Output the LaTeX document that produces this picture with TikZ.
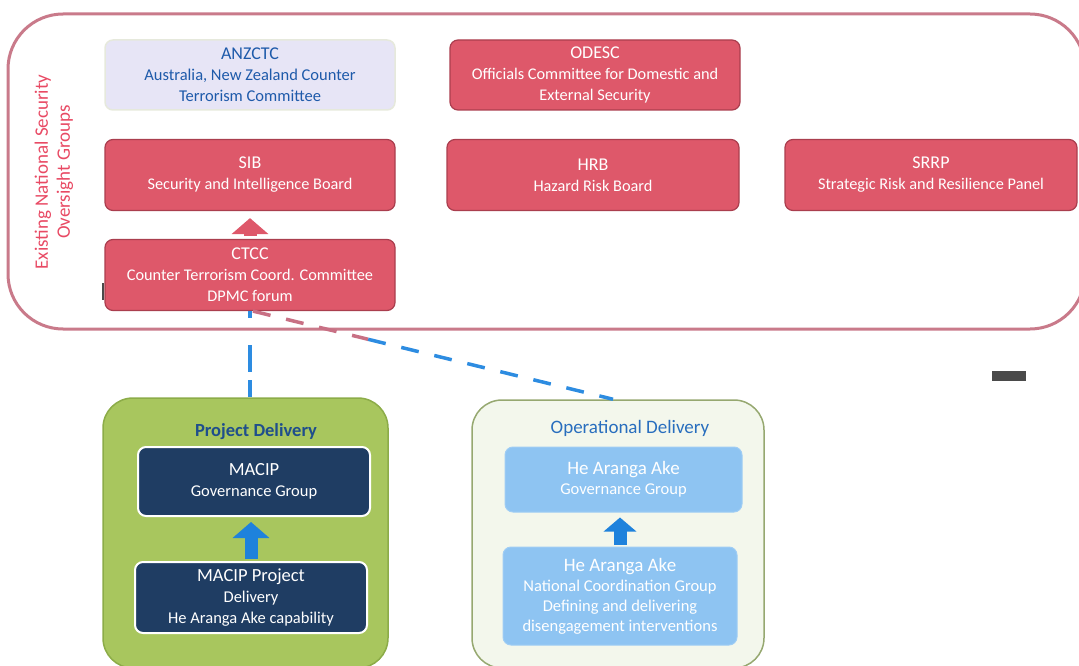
\documentclass[tikz,border=0pt]{standalone}
\usepackage{fontspec}
\setmainfont{Carlito}
\usetikzlibrary{arrows.meta,calc}
\definecolor{redfill}{RGB}{222,88,106}
\definecolor{redborder}{RGB}{170,62,78}
\definecolor{outerc}{RGB}{201,122,138}
\definecolor{labelred}{RGB}{232,74,100}
\definecolor{lavfill}{RGB}{231,229,246}
\definecolor{lavborder}{RGB}{230,233,220}
\definecolor{anztext}{RGB}{30,90,170}
\definecolor{pdgreen}{RGB}{168,198,94}
\definecolor{pdborder}{RGB}{140,172,72}
\definecolor{odfill}{RGB}{243,247,236}
\definecolor{odborder}{RGB}{150,168,112}
\definecolor{navy}{RGB}{31,61,99}
\definecolor{lightblue}{RGB}{142,196,242}
\definecolor{arrowblue}{RGB}{30,130,220}
\definecolor{dashblue}{RGB}{45,140,225}
\definecolor{dashpink}{RGB}{200,112,132}
\definecolor{pdtitle}{RGB}{31,78,140}
\definecolor{odtitle}{RGB}{40,110,190}
\definecolor{markgray}{RGB}{74,74,74}
\newcommand{\ttl}[1]{{\fontsize{18}{21}\selectfont #1}}
\begin{document}
\begin{tikzpicture}[x=1pt,y=-1pt,
  redbox/.style={rounded corners=8pt, fill=redfill, draw=redborder, line width=1.2pt,
    text=white, align=center, inner sep=0pt, font=\fontsize{16.3}{21}\selectfont},
  lavbox/.style={rounded corners=8pt, fill=lavfill, draw=lavborder, line width=1.5pt,
    text=anztext, align=center, inner sep=0pt, font=\fontsize{16.5}{21}\selectfont},
  navybox/.style={rounded corners=8pt, fill=navy, draw=white, line width=2pt,
    text=white, align=center, inner sep=0pt, font=\fontsize{16.5}{21}\selectfont},
  bluebox/.style={rounded corners=8pt, fill=lightblue, draw=lightblue!85!white, line width=1pt,
    text=white, align=center, inner sep=0pt, font=\fontsize{16.5}{20}\selectfont},
  groupbox/.style={rounded corners=30pt, line width=1.5pt, inner sep=0pt},
  blockarrow/.style={line width=13pt, -{Triangle[width=36pt,length=16pt]}},
  dashconn/.style={line width=3.5pt, dash pattern=on 18pt off 16pt}
]
\clip (0,0) rectangle (1079,666);
\useasboundingbox (0,0) rectangle (1079,666);

% outer oversight box
\draw[outerc, line width=3pt, rounded corners=55pt] (8,14) rectangle (1085,329);
\node[rotate=90, align=center, text=labelred, font=\fontsize{19}{22}\selectfont] (lbl) at (54,172)
  {Existing National Security\\Oversight Groups};

% top groups
\node[lavbox, minimum width=290pt, minimum height=70pt] (anzctc) at (250,75)
  {\ttl{ANZCTC}\\Australia, New Zealand Counter\\Terrorism Committee};
\node[redbox, minimum width=290pt, minimum height=70pt] (odesc) at (595,75)
  {\ttl{ODESC}\\Officials Committee for Domestic and\\External Security};
\node[redbox, minimum width=290pt, minimum height=71pt] (sib) at (250,175)
  {\ttl{SIB}\\Security and Intelligence Board};
\node[redbox, minimum width=292pt, minimum height=71pt] (hrb) at (593,175)
  {\ttl{HRB}\\Hazard Risk Board};
\node[redbox, minimum width=292pt, minimum height=71pt] (srrp) at (931,175)
  {\ttl{SRRP}\\Strategic Risk and Resilience Panel};
\node[redbox, minimum width=290pt, minimum height=71pt] (ctcc) at (250,275)
  {\ttl{CTCC}\\Counter Terrorism Coord. Committee\\DPMC forum};
\draw[markgray, line width=1.5pt] (103,283) -- (103,300);

\draw[redfill, blockarrow, shorten <=3pt, shorten >=7pt] (ctcc.north) -- (sib.south);

% delivery groups
\node[groupbox, fill=pdgreen, draw=pdborder, minimum width=285pt, minimum height=270pt] (pd) at (245.5,533) {};
\node[groupbox, fill=odfill, draw=odborder, minimum width=292pt, minimum height=268pt] (od) at (618,534) {};

\node[font=\bfseries\fontsize{18.5}{20}\selectfont, text=pdtitle] (pdt) at (256,432) {Project Delivery};
\node[font=\fontsize{19}{20}\selectfont, text=odtitle] (odt) at (630,428) {Operational Delivery};

\node[navybox, minimum width=232pt, minimum height=69pt] (mgov) at (254,481.5)
  {{\fontsize{18.5}{22}\selectfont MACIP}\\Governance Group};
\node[navybox, minimum width=232pt, minimum height=71pt] (mproj) at (251,597.5)
  {{\fontsize{18.5}{21}\selectfont MACIP Project}\\Delivery\\He Aranga Ake capability};
\draw[arrowblue, blockarrow, shorten <=2pt, shorten >=5pt] (mproj.north) -- (mproj.north |- mgov.south);

\node[bluebox, minimum width=237pt, minimum height=65pt] (hgov) at (623.5,479.5)
  {{\fontsize{19}{21}\selectfont He Aranga Ake}\\Governance Group};
\node[bluebox, minimum width=234pt, minimum height=98pt] (ncg) at (620,596)
  {{\fontsize{19}{20}\selectfont He Aranga Ake}\\National Coordination Group\\Defining and delivering\\disengagement interventions};
\draw[arrowblue, blockarrow, -{Triangle[width=32pt,length=14pt]}, shorten <=2pt, shorten >=5pt] (ncg.north) -- (ncg.north |- hgov.south);

% dashed connectors
\draw[dashblue, line width=3.5pt, dash pattern=on 7pt off 27pt on 27pt off 8pt on 30pt off 10pt]
  (ctcc.south) -- (ctcc.south |- pd.north);
\coordinate (dstart) at ([xshift=3pt]ctcc.south);
\coordinate (dend) at ([xshift=-5pt]od.north);
\coordinate (dmid) at ($(dstart)!0.32!(dend)$);
\draw[dashpink, dashconn] (dstart) -- (dmid);
\draw[dashblue, dashconn] (dmid) -- (dend);

% small dark mark
\node[fill=markgray, minimum width=34pt, minimum height=10pt, inner sep=0pt] (mark) at (1009,376) {};
\end{tikzpicture}
\end{document}
